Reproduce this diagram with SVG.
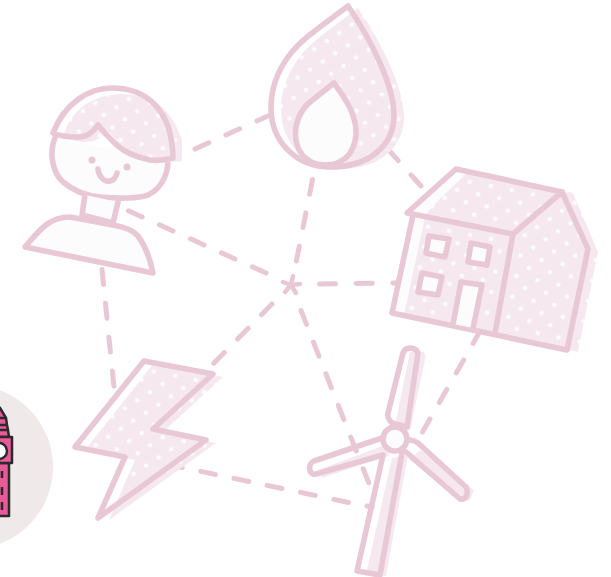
<svg xmlns="http://www.w3.org/2000/svg" width="611" height="577" viewBox="0 0 611 577">
<style>
.o{fill:none;stroke:#e9c8d5;stroke-width:5.600;stroke-linejoin:round;stroke-linecap:round}
.w{fill:#fdfcfd;stroke:#e9c8d5;stroke-width:5.600;stroke-linejoin:round;stroke-linecap:round}
.d{fill:none;stroke:#e9c8d5;stroke-width:5;stroke-linecap:round;stroke-dasharray:15 19}
.t{stroke:#2a2a2a;stroke-width:2.500;stroke-linejoin:round}
</style>
<defs>
<pattern id="dots" width="21.4" height="20.8" patternUnits="userSpaceOnUse" patternTransform="rotate(11.3) translate(20.5 18.9)">
<rect width="21.4" height="20.8" fill="#f5e9ef"/>
<circle cx="5" cy="5" r="2.300" fill="#fdfbfc"/>
<circle cx="15.7" cy="15.4" r="2.300" fill="#fdfbfc"/>
</pattern>
<pattern id="dotsF" href="#dots" patternTransform="rotate(11.3) translate(2.5 12.9)"/>
<pattern id="dotsB" href="#dots" patternTransform="rotate(11.3) translate(4.8 17.4)"/>
<pattern id="dotsH" href="#dots" patternTransform="rotate(11.3) translate(12.4 4.5)"/>
</defs>
<rect width="611" height="577" fill="#fff"/>
<g id="connectors">
<path class="d" d="M195 149L270 115"/>
<path class="d" d="M421 186L386 147"/>
<path class="d" d="M312.500 179.500L296 263"/>
<path class="d" d="M266 273L118 206"/>
<path class="d" d="M102 269.500L114 387"/>
<path class="d" style="stroke-dasharray:16 20.700" d="M319.500 284L400 283"/>
<path class="d" d="M272 304L212 365"/>
<path class="d" d="M301 310.500L370 486"/>
<path class="d" d="M422.500 432L479 333"/>
<path class="d" d="M348.500 502.500L180 467"/>
<path class="d" d="M367 506L372 507"/>
<path class="o" style="stroke-width:4.500" d="M291 285L293 276M291 285L300 284M291 285L296 293M291 285L285 292M291 285L283 282"/>
</g>
<g id="badge">
<circle cx="-29" cy="467" r="82" fill="#efe9ea"/>
<path class="t" fill="#e85a9a" d="M-4 463H9V516H-4Z"/>
<path class="t" fill="#e85a9a" d="M-4 404L0 408L6 418L7 425L8 430L9 437H-4Z"/>
<path class="t" fill="none" d="M-4 418H6M-4 425H7M-4 430H8"/>
<rect class="t" fill="#e85a9a" x="-4" y="437" width="16" height="26"/>
<circle class="t" fill="#fff" cx="-1" cy="451" r="8"/>
<path d="M2 471V478M2 487V495M2 502V510" stroke="#2a2a2a" stroke-width="2.500" fill="none"/>
</g>
<g id="person">
<path class="w" d="M55 138C49 152 52 172 63 182C75 192 88 196 100 197C120 199 135 198 145 196C158 192 168 178 168 160"/>
<path class="w" d="M85 195L82 215L113 223L118 202"/>
<path class="w" d="M25 247C38 232 48 217 70 217L113 225C125 227 133 230 138 236C146 247 150 258 153 273Z"/>
<path fill="url(#dotsH)" d="M63 137C72 108 92 95 122 94C150 95 170 105 182 140V161L160 163C140 160 125 150 108 131C100 142 85 146 63 137Z"/>
<path class="o" d="M53 133C65 102 90 88 112 88C145 88 172 108 173 158C165 160 157 161 150 160C135 157 125 152 118 146C109 138 103 131 98 125C92 134 84 138 75 137C67 137 60 136 53 133Z"/>
<circle cx="92" cy="160" r="3.500" fill="#e9c8d5"/>
<circle cx="127" cy="167" r="3.500" fill="#e9c8d5"/>
<path class="o" d="M98 169C99 178 105 182 109 181C113 181 116 177 117 173"/>
</g>
<g id="flame">
<path fill="url(#dotsF)" d="M358 8C330 29 310 42 298 59C285 77 281 94 281 110C281 144 307 169 340 169C380 169 404 147 404 117C404 87 380 40 358 8Z"/>
<path class="o" d="M348 6C320 27 300 40 288 57C275 75 271 92 271 108C271 142 297 167 330 167C370 167 394 145 394 115C394 85 370 38 348 6Z"/>
<path class="w" d="M334 83L310 102C298 112 294 128 296 140C298 155 310 165 325 165C342 165 354 155 356 135C357 115 345 98 334 83Z"/>
</g>
<g id="house">
<path fill="url(#dots)" d="M466 170L573 193L598 252L578 352L505 335L402 315L423 217Z"/>
<path fill="#fdfcfd" d="M413 215L392 313L404 315L425 217Z"/>
<path fill="#fdfcfd" d="M456 169L407 213L422 216L468 172Z"/>
<path fill="#fff" d="M567 350L578 352L577 354L560 354Z"/>
<path class="o" d="M456 169L562 192L513 234L407 213Z"/>
<path class="o" d="M413 215L392 313L567 350L588 249L562 192M513 234L495 333"/>
<path class="w" d="M429 236L449 239L445 257L426 253Z"/>
<path class="w" d="M471 243L490 247L487 265L468 262Z"/>
<path class="w" d="M422 273L442 277L438 295L418 292Z"/>
<path class="w" d="M453 324L461 282L482 285L473 328"/>
</g>
<g id="turbine">
<path fill="#fff" d="M392 458L402 453L380 575L357 572Z"/>
<path fill="#f5e9ef" d="M410 352L424 352Q426 355 425 360L410 430L395 425Z"/>
<path fill="#f5e9ef" d="M318 470L385 445L390 455L322 478Z"/>
<path fill="#f5e9ef" d="M420 450L474 490L470 500L462 502L410 460Z"/>
<path fill="#f5e9ef" d="M392 458L408 455L386 576L366 574Z"/>
<path class="o" d="M403 353C405 347 415 346 418 353L407 427L392 423C388 419 387 416 388 413Z"/>
<path class="o" d="M382 438L314 461C307 464 309 476 316 474L383 455"/>
<path class="o" d="M405 441C410 439 414 440 418 443L466 487C469 494 466 500 460 499L406 452"/>
<path class="o" d="M383 455L357 571L380 575L402 453"/>
<circle class="w" cx="395" cy="439" r="12"/>
</g>
<g id="bolt">
<path fill="url(#dotsB)" d="M154 363L223 377L163 432L216 443L109 520L135 460L85 450Z"/>
<path class="o" d="M144 361L213 374L153 429L206 440L98 518L125 457L75 447Z"/>
</g>
</svg>
